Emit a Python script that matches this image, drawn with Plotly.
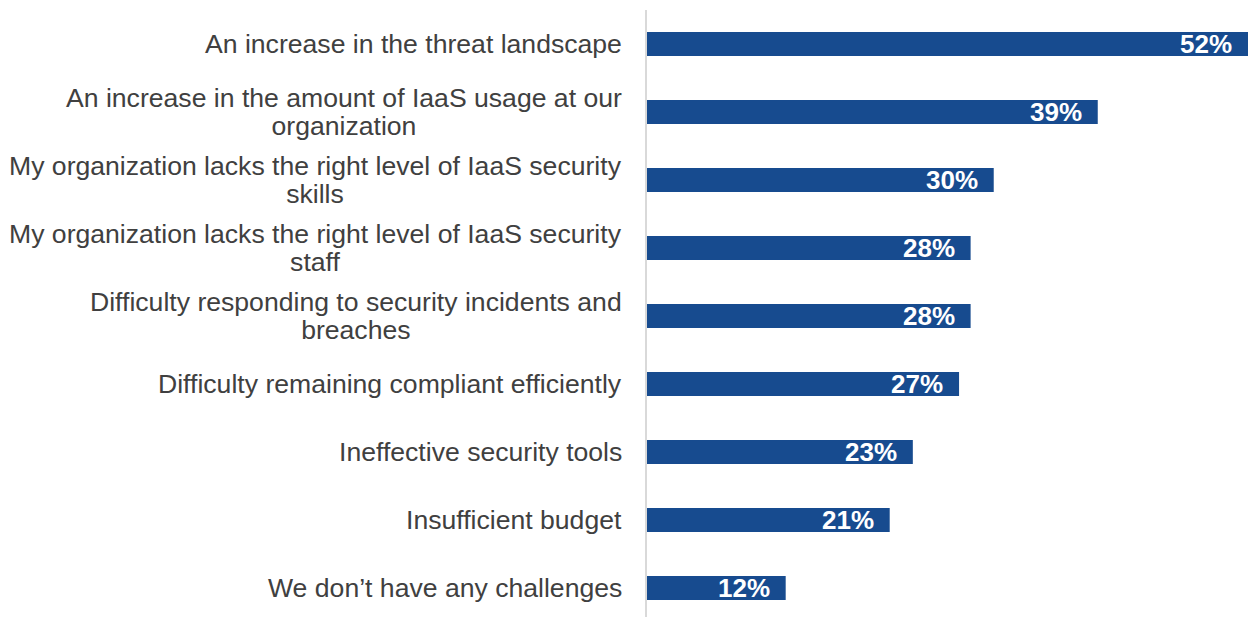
import plotly.graph_objects as go

categories = [
    "An increase in the threat landscape",
    "An increase in the amount of IaaS usage at our<br>organization",
    "My organization lacks the right level of IaaS security<br>skills",
    "My organization lacks the right level of IaaS security<br>staff",
    "Difficulty responding to security incidents and<br>breaches",
    "Difficulty remaining compliant efficiently",
    "Ineffective security tools",
    "Insufficient budget",
    "We don\u2019t have any challenges",
]
values = [52, 39, 30, 28, 28, 27, 23, 21, 12]
value_labels = ["52%", "39%", "30%", "28%", "28%", "27%", "23%", "21%", "12%"]

BAR_COLOR = "#174B8F"
TEXT_COLOR = "#404040"
FONT = "Liberation Sans, Arial, sans-serif"

positions = list(range(len(categories)))

fig = go.Figure()
fig.add_trace(go.Bar(
    x=values,
    y=positions,
    orientation="h",
    marker=dict(color=BAR_COLOR, line=dict(width=0)),
    width=0.353,
    hoverinfo="skip",
))

span_open = '<span style="font-size:26.6px">'
annotations = []
for pos, cat in zip(positions, categories):
    annotations.append(dict(
        x=0, y=pos, xref="x", yref="y",
        text=span_open + cat.replace("<br>", "</span><br>" + span_open) + "</span>",
        showarrow=False, xanchor="right", yanchor="middle",
        align="center", xshift=-23,
        font=dict(family=FONT, size=21.5, color=TEXT_COLOR),
    ))
for pos, v, lab in zip(positions, values, value_labels):
    annotations.append(dict(
        x=v, y=pos, xref="x", yref="y",
        text="<b>" + lab + "</b>",
        showarrow=False, xanchor="right", yanchor="middle",
        xshift=-14,
        font=dict(family=FONT, size=26, color="white"),
    ))

fig.update_layout(
    width=1248, height=617,
    margin=dict(l=647, r=0, t=10, b=0),
    paper_bgcolor="white", plot_bgcolor="white",
    showlegend=False,
    xaxis=dict(range=[0, 52], showgrid=False, zeroline=False, showticklabels=False,
               showline=False, ticks=""),
    yaxis=dict(range=[8.5 - 5 / 68, -0.5], showgrid=False, zeroline=False,
               showticklabels=False, ticks="", showline=True,
               linecolor="#d9d9d9", linewidth=2),
    annotations=annotations,
)

fig.write_html("out.html")
